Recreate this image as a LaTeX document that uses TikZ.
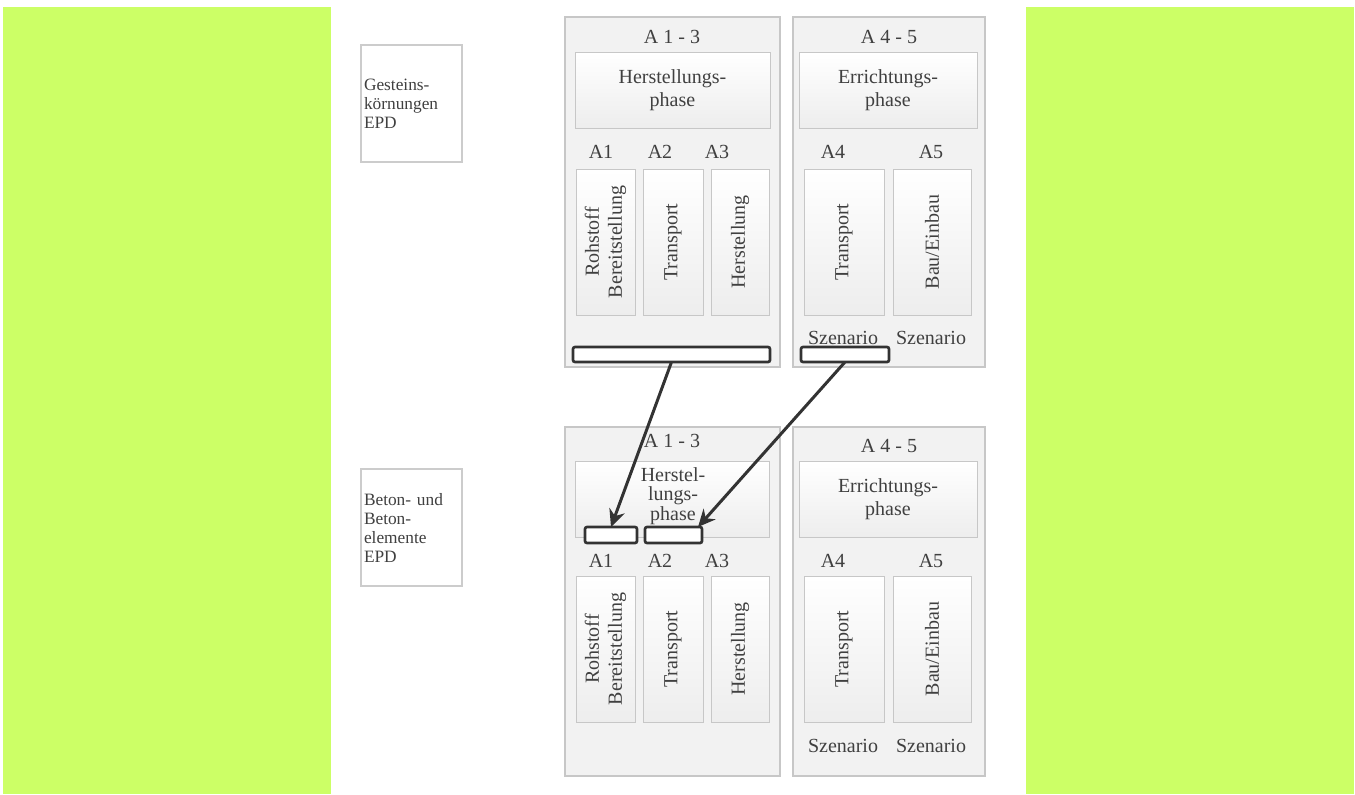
\documentclass[tikz,border=0pt]{standalone}
\usepackage{fontspec}
\setmainfont{Liberation Serif}
\usetikzlibrary{arrows.meta,shadows}
\definecolor{sidebar}{HTML}{CCFF66}

\begin{document}
\begin{tikzpicture}[
            x=0.75pt, y=-0.75pt,
            every node/.style={
                inner sep=0pt, outer sep=0pt, text=black!75
            },
            sz/.style 2 args={
                minimum width=#1*0.75pt, minimum height=#2*0.75pt
            },
            panel/.style={
                draw=black!22, fill=black!5, line width=0.8pt,
                drop shadow={opacity=0.12, shadow xshift=0.8pt, shadow yshift=-0.8pt}
            },
            stage/.style={
                draw=black!22, top color=white, bottom color=black!7, line width=0.7pt,
                drop shadow={opacity=0.15, shadow xshift=0.8pt, shadow yshift=-0.8pt}
            },
            epd/.style={
                draw=black!20, fill=white, line width=0.8pt,
                drop shadow={opacity=0.1, shadow xshift=0.8pt, shadow yshift=-0.8pt}
            },
            slot/.style={
                draw=black!80, fill=white, line width=2pt, rounded corners=1.5pt
            },
            flow/.style={
                draw=black!80, line width=2.25pt,
                -{Stealth[length=13pt, width=12pt]}
            },
            big/.style={
                font=\fontsize{15}{17.25}\selectfont
            },
            tight/.style={
                font=\fontsize{15}{14.5}\selectfont
            },
            small/.style={
                font=\fontsize{13}{14.25}\selectfont
            }
        ]
        \useasboundingbox (0,0) rectangle (1355,794);
        \fill[white] (0,0) rectangle (1355,794);
        \fill[sidebar] (3,7) rectangle (331,794);
        \fill[sidebar] (1026,7) rectangle (1354,794);

        \node[epd, sz={101}{117}, small, text width=95*0.75pt, align=left] (gkEPD) at (411.5,103.5) {Gesteins-\\körnungen\\EPD};
        \node[epd, sz={101}{117}, small, text width=95*0.75pt, align=left] (btEPD) at (411.5,527.5) {Beton- und\\Beton-\\elemente\\EPD};

        \begin{scope}
            \node[panel, sz={215}{350}] (gkA13) at (672.5,192) {};
            \node[panel, sz={192}{350}] (gkA45) at (889,192) {};
            \node[big] (gkA13title) at (672,37) {A 1 - 3};
            \node[big] (gkA45title) at (889,37) {A 4 - 5};
            \node[stage, sz={195}{76}, big, align=center] (gkHerst) at (672.5,90) {Herstellungs-\\phase};
            \node[stage, sz={178}{76}, big, align=center] (gkErr) at (888,90) {Errichtungs-\\phase};

            \node[big] (gkA1) at (601,152) {A1};
            \node[big] (gkA2) at (660,152) {A2};
            \node[big] (gkA3) at (717,152) {A3};
            \node[big] (gkA4) at (833,152) {A4};
            \node[big] (gkA5) at (931,152) {A5};

            \node[stage, sz={59}{146}] (gkRoh) at (605.5,242) {};
            \node[stage, sz={60}{146}] (gkTrans) at (673,242) {};
            \node[stage, sz={58}{146}] (gkHer) at (740,242) {};
            \node[stage, sz={80}{146}] (gkTrans45) at (844,242) {};
            \node[stage, sz={78}{146}] (gkBau) at (932,242) {};
            \node[big, rotate=90, align=center] at (gkRoh) {Rohstoff\\Bereitstellung};
            \node[big, rotate=90] at (gkTrans) {Transport};
            \node[big, rotate=90] at (gkHer) {Herstellung};
            \node[big, rotate=90] at (gkTrans45) {Transport};
            \node[big, rotate=90] at (gkBau) {Bau/Einbau};

            \node[big] (gkSz4) at (843,338) {Szenario};
            \node[big] (gkSz5) at (931,338) {Szenario};

            \node[slot, sz={197}{15}] (gkBar) at (671.5,354.5) {};
            \node[slot, sz={88}{15}] (gkSzBar) at (845,354.5) {};
        \end{scope}

        \begin{scope}[shift={(0,409)}]
            \node[panel, sz={215}{349}] (btA13) at (672.5,192.5) {};
            \node[panel, sz={192}{349}] (btA45) at (889,192.5) {};
            \node[big] (btA13title) at (672,32) {A 1 - 3};
            \node[big] (btA45title) at (889,37) {A 4 - 5};
            \node[stage, sz={194}{76}] (btHerst) at (672,90) {};
            \node[tight, align=center] at (673,87) {Herstel-\\lungs-\\phase};
            \node[stage, sz={178}{76}, big, align=center] (btErr) at (888,90) {Errichtungs-\\phase};

            \node[big] (btA1) at (601,152) {A1};
            \node[big] (btA2) at (660,152) {A2};
            \node[big] (btA3) at (717,152) {A3};
            \node[big] (btA4) at (833,152) {A4};
            \node[big] (btA5) at (931,152) {A5};

            \node[stage, sz={59}{146}] (btRoh) at (605.5,240) {};
            \node[stage, sz={60}{146}] (btTrans) at (673,240) {};
            \node[stage, sz={58}{146}] (btHer) at (740,240) {};
            \node[stage, sz={80}{146}] (btTrans45) at (844,240) {};
            \node[stage, sz={78}{146}] (btBau) at (932,240) {};
            \node[big, rotate=90, align=center] at (btRoh) {Rohstoff\\Bereitstellung};
            \node[big, rotate=90] at (btTrans) {Transport};
            \node[big, rotate=90] at (btHer) {Herstellung};
            \node[big, rotate=90] at (btTrans45) {Transport};
            \node[big, rotate=90] at (btBau) {Bau/Einbau};

            \node[big] (btSz4) at (843,337) {Szenario};
            \node[big] (btSz5) at (931,337) {Szenario};

            \node[slot, sz={52}{16}] (btSlotA1) at (611,126) {};
            \node[slot, sz={57}{16}] (btSlotA2) at (673.5,126) {};
        \end{scope}

        \draw[flow] (gkBar.south) -- (btSlotA1.north);
        \draw[flow] (gkSzBar.south) -- ([xshift=-3pt]btSlotA2.north east);
        \end{tikzpicture}
\end{document}
